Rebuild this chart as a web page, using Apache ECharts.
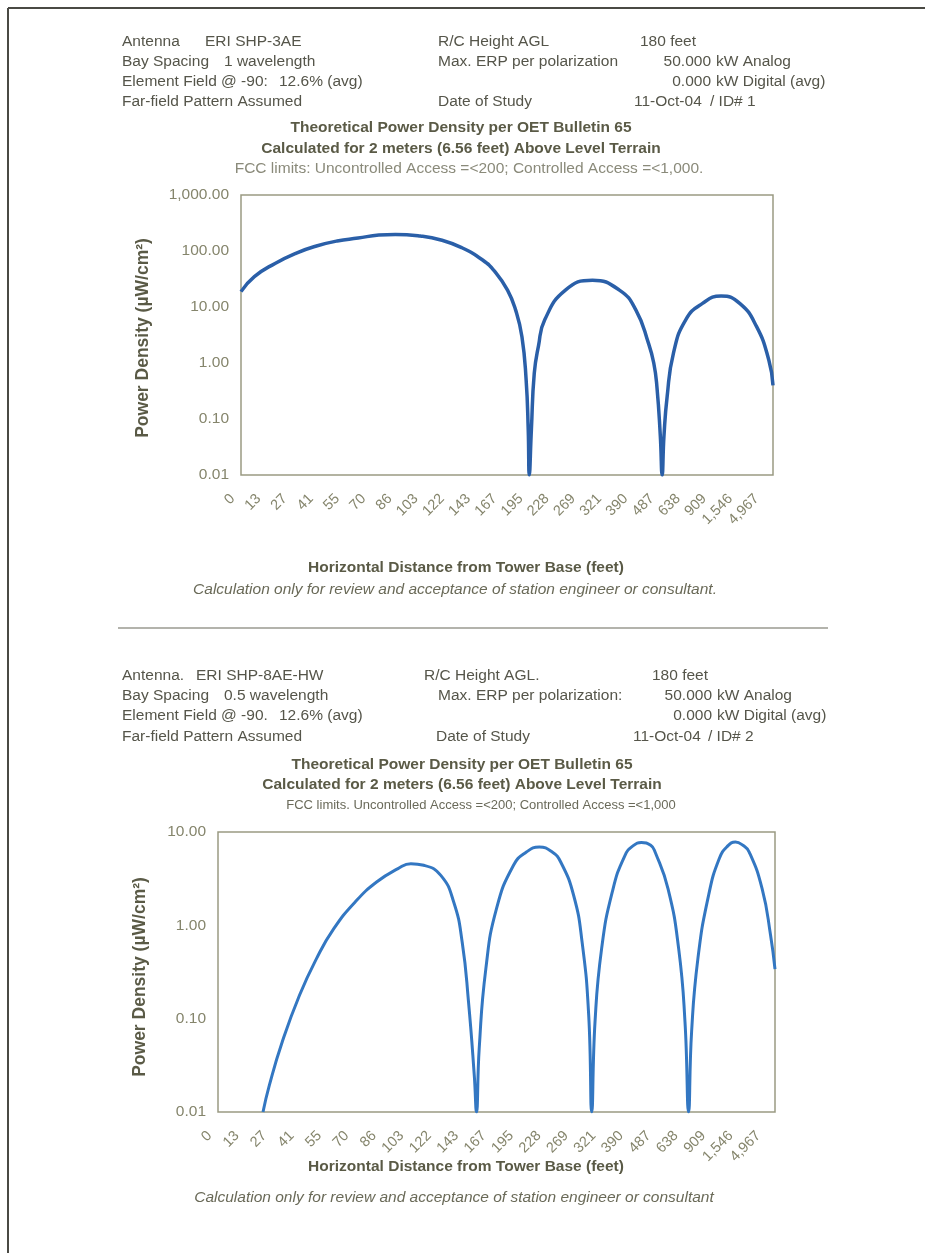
<!DOCTYPE html>
<html>
<head>
<meta charset="utf-8">
<title>Theoretical Power Density</title>
<script src="https://cdn.jsdelivr.net/npm/echarts@6/dist/echarts.min.js"></script>
<style>
  html, body { margin: 0; padding: 0; background: #fff; }
  #main { width: 925px; height: 1253px; }
</style>
</head>
<body>
<div id="main"></div>
<script>
// x axis tick labels (horizontal distance from tower base, feet)
var distLabels = ['0', '13', '27', '41', '55', '70', '86', '103', '122', '143', '167',
  '195', '228', '269', '321', '390', '487', '638', '909', '1,546', '4,967'];

// y axis tick labels
var yLabels1 = ['0.01', '0.10', '1.00', '10.00', '100.00', '1,000.00'];
var yLabels2 = ['0.01', '0.10', '1.00', '10.00'];

// chart 1 : ERI SHP-3AE (position in label steps, power density uW/cm2)
var pos1 = [0, 0.51, 1.30, 2.09, 2.88, 3.67, 4.47, 5.26, 5.89, 6.84, 7.63, 8.42, 9.22, 9.69,
  10.17, 10.48, 10.72, 10.88, 10.96, 11.00, 11.08, 11.19, 11.35, 11.59, 12.38, 13.41, 14.44,
  15.07, 15.55, 15.75, 15.87, 16.00, 16.07, 16.14, 16.26, 16.50, 16.97, 17.61, 18.32, 19.03,
  19.67, 20.14, 20.30];
var dens1 = [18.8, 34.8, 60, 91, 123, 151, 170, 193, 198, 185, 157, 115, 69, 42.8,
  20, 8.8, 2.95, 0.5, 0.064, 0.01, 0.064, 0.65, 2.0, 5.9, 20, 30, 20,
  8.8, 2.24, 1.0, 0.38, 0.05, 0.01, 0.05, 0.25, 1.49, 5.9, 11.6, 15.7, 11.6,
  4.5, 1.13, 0.4];

// chart 2 : ERI SHP-8AE-HW
var pos2 = [1.64, 1.87, 2.34, 2.97, 3.59, 4.22, 5.00, 5.78, 6.56, 7.03, 7.50, 8.12, 8.59,
  8.90, 9.13, 9.34, 9.42, 9.52, 9.76, 10.15, 10.77, 11.24, 11.71, 12.18, 12.49, 12.96, 13.27,
  13.51, 13.62, 13.74, 13.98, 14.37, 14.83, 15.15, 15.43, 15.77, 15.93, 16.40, 16.79, 17.02,
  17.15, 17.26, 17.49, 17.88, 18.27, 18.58, 18.86, 19.13, 19.36, 19.83, 20.14, 20.30];
var dens2 = [0.01, 0.0193, 0.0562, 0.178, 0.44, 0.92, 1.78, 2.91, 4.05, 4.58, 4.4, 3.43, 1.78,
  0.66, 0.151, 0.0247, 0.01, 0.048, 0.34, 1.51, 4.4, 6.1, 6.9, 6.1, 4.77, 2.1, 0.66,
  0.109, 0.01, 0.092, 0.56, 2.28, 5.6, 7.2, 7.7, 7.2, 6.1, 2.47, 0.56, 0.092,
  0.01, 0.072, 0.44, 2.1, 5.2, 7.1, 7.8, 7.2, 6.1, 2.47, 0.78, 0.34];

function zip(a, b) {
  var out = [];
  for (var i = 0; i < a.length; i++) out.push([a[i], b[i]]);
  return out;
}

var hdrColor = '#55554a';
var titleColor = '#5a5a46';
var lblColor = '#85856c';
var FONT = '"Liberation Sans", Arial, sans-serif';

// helper for plain texts
function txt(x, y, s, size, opt) {
  opt = opt || {};
  return {
    type: 'text', x: x, y: y, rotation: opt.rot || 0, silent: true,
    style: {
      text: s,
      font: (opt.style || '') + ' ' + (opt.weight || 'normal') + ' ' + size + 'px ' + FONT,
      fill: opt.color || hdrColor,
      align: opt.align || 'left',
      verticalAlign: 'middle'
    }
  };
}

var H = 15.5; // header font size
var graphics = [
  // page frame
  { type: 'line', shape: { x1: 8, y1: 8, x2: 925, y2: 8 }, style: { stroke: '#4a4a44', lineWidth: 2 } },
  { type: 'line', shape: { x1: 8, y1: 8, x2: 8, y2: 1253 }, style: { stroke: '#4a4a44', lineWidth: 2 } },
  // separator
  { type: 'line', shape: { x1: 118, y1: 628, x2: 828, y2: 628 }, style: { stroke: '#9a9a90', lineWidth: 1.5 } },

  // header 1
  txt(122, 42, 'Antenna', H), txt(205, 42, 'ERI SHP-3AE', H),
  txt(122, 62, 'Bay Spacing', H), txt(224, 62, '1 wavelength', H),
  txt(122, 82, 'Element Field @ -90:', H), txt(279, 82, '12.6% (avg)', H),
  txt(122, 102, 'Far-field Pattern Assumed', H),
  txt(438, 42, 'R/C Height AGL', H),
  txt(438, 62, 'Max. ERP per polarization', H),
  txt(438, 102, 'Date of Study', H),
  txt(640, 42, '180 feet', H),
  txt(711, 62, '50.000', H, { align: 'right' }), txt(716, 62, 'kW Analog', H),
  txt(711, 82, '0.000', H, { align: 'right' }), txt(716, 82, 'kW Digital (avg)', H),
  txt(634, 102, '11-Oct-04', H), txt(710, 102, '/ ID# 1', H),
  txt(461, 128, 'Theoretical Power Density per OET Bulletin 65', 15.5, { align: 'center', weight: 'bold', color: titleColor }),
  txt(461, 149, 'Calculated for 2 meters (6.56 feet) Above Level Terrain', 15.5, { align: 'center', weight: 'bold', color: titleColor }),
  txt(469, 169, 'FCC limits: Uncontrolled Access =<200; Controlled Access =<1,000.', 15.5, { align: 'center', color: '#8a8a7a' }),
  txt(143, 338, 'Power Density (\u00b5W/cm\u00b2)', 17.5, { align: 'center', weight: 'bold', color: titleColor, rot: Math.PI / 2 }),
  txt(466, 568, 'Horizontal Distance from Tower Base (feet)', 15.5, { align: 'center', weight: 'bold', color: titleColor }),
  txt(455, 590, 'Calculation only for review and acceptance of station engineer or consultant.', 15.5, { align: 'center', style: 'italic', color: '#6a6a58' }),

  // header 2
  txt(122, 676, 'Antenna.', H), txt(196, 676, 'ERI SHP-8AE-HW', H),
  txt(122, 696, 'Bay Spacing', H), txt(224, 696, '0.5 wavelength', H),
  txt(122, 716, 'Element Field @ -90.', H), txt(279, 716, '12.6% (avg)', H),
  txt(122, 737, 'Far-field Pattern Assumed', H),
  txt(424, 676, 'R/C Height AGL.', H),
  txt(438, 696, 'Max. ERP per polarization:', H),
  txt(436, 737, 'Date of Study', H),
  txt(652, 676, '180 feet', H),
  txt(712, 696, '50.000', H, { align: 'right' }), txt(717, 696, 'kW Analog', H),
  txt(712, 716, '0.000', H, { align: 'right' }), txt(717, 716, 'kW Digital (avg)', H),
  txt(633, 737, '11-Oct-04', H), txt(708, 737, '/ ID# 2', H),
  txt(462, 765, 'Theoretical Power Density per OET Bulletin 65', 15.5, { align: 'center', weight: 'bold', color: titleColor }),
  txt(462, 785, 'Calculated for 2 meters (6.56 feet) Above Level Terrain', 15.5, { align: 'center', weight: 'bold', color: titleColor }),
  txt(481, 805, 'FCC limits. Uncontrolled Access =<200; Controlled Access =<1,000', 13, { align: 'center', color: '#6a6a5a' }),
  txt(140, 977, 'Power Density (\u00b5W/cm\u00b2)', 17.5, { align: 'center', weight: 'bold', color: titleColor, rot: Math.PI / 2 }),
  txt(466, 1167, 'Horizontal Distance from Tower Base (feet)', 15.5, { align: 'center', weight: 'bold', color: titleColor }),
  txt(454, 1198, 'Calculation only for review and acceptance of station engineer or consultant', 15.5, { align: 'center', style: 'italic', color: '#6a6a58' })
];

function xAxisFor(idx) {
  return {
    gridIndex: idx, type: 'value', min: 0, max: 20.3, interval: 1,
    axisLine: { show: false }, axisTick: { show: false }, splitLine: { show: false },
    axisLabel: {
      rotate: 45, color: lblColor, fontSize: 14.5, fontFamily: FONT, margin: 13,
      padding: [0, 12, 0, 0],
      formatter: function (v) {
        var r = Math.round(v);
        return Math.abs(v - r) < 1e-6 && distLabels[r] !== undefined ? distLabels[r] : '';
      }
    }
  };
}

function yAxisFor(idx, max, labels) {
  return {
    gridIndex: idx, type: 'log', logBase: 10, min: 0.01, max: max,
    axisLine: { show: false }, axisTick: { show: false }, splitLine: { show: false },
    axisLabel: {
      color: lblColor, fontSize: 15.5, fontFamily: FONT, margin: 12,
      formatter: function (v) {
        var k = Math.round(Math.log(v) / Math.LN10) + 2;
        return labels[k] || '';
      }
    }
  };
}

var chart = echarts.init(document.getElementById('main'));
chart.setOption({
  animation: false,
  backgroundColor: '#fff',
  grid: [
    { left: 241, top: 195, width: 532, height: 280, show: true, borderColor: '#9a9a82', borderWidth: 1.5 },
    { left: 218, top: 832, width: 557, height: 280, show: true, borderColor: '#9a9a82', borderWidth: 1.5 }
  ],
  xAxis: [xAxisFor(0), xAxisFor(1)],
  yAxis: [yAxisFor(0, 1000, yLabels1), yAxisFor(1, 10, yLabels2)],
  series: [
    {
      type: 'line', xAxisIndex: 0, yAxisIndex: 0, data: zip(pos1, dens1),
      showSymbol: false, smooth: 0.5,
      lineStyle: { color: '#2a5fa8', width: 3.5 }
    },
    {
      type: 'line', xAxisIndex: 1, yAxisIndex: 1, data: zip(pos2, dens2),
      showSymbol: false, smooth: 0.5,
      lineStyle: { color: '#3377c2', width: 3 }
    }
  ],
  graphic: graphics
});
</script>
</body>
</html>
